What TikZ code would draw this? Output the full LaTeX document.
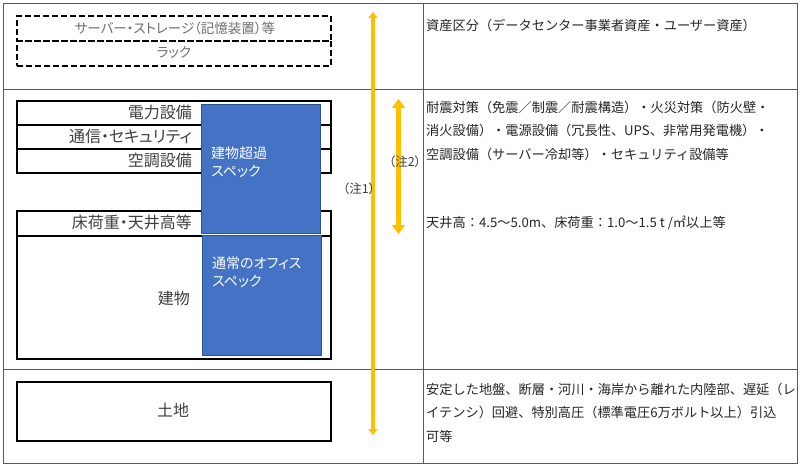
\documentclass[tikz,border=0pt]{standalone}
\usepackage{fontspec}
\newfontfamily\jp[RawFeature=+palt]{Noto Sans CJK JP}
\newfontfamily\jpr{Noto Sans CJK JP}
\usetikzlibrary{arrows.meta}
\definecolor{frame}{HTML}{595959}
\definecolor{blu}{HTML}{4472C4}
\definecolor{blub}{HTML}{2F528F}
\definecolor{gold}{HTML}{FFC000}
\definecolor{lbl}{HTML}{404040}
\definecolor{lbl2}{HTML}{6E6E6E}
\definecolor{txt}{HTML}{262626}
\tikzset{
  x=1pt, y=-1pt,
  cell/.style={draw=frame, line width=1pt, anchor=north west, inner sep=0pt},
  box/.style={draw=black, line width=1.8pt, anchor=north west, inner sep=0pt, minimum width=314pt},
  dbox/.style={draw=black, line width=1.6pt, dash pattern=on 6pt off 3pt, anchor=north west, inner sep=0pt, minimum width=314pt, minimum height=25pt},
  bluebox/.style={fill=blu, draw=blub, line width=0.6pt, anchor=north west, inner sep=0pt, minimum width=119pt},
  lab/.style={font=\jp\fontsize{16}{18}\selectfont, text=lbl, inner sep=0pt},
  dlab/.style={font=\jp\fontsize{13.5}{15}\selectfont, text=lbl2, inner sep=0pt},
  wlab/.style={font=\jp\fontsize{14}{18}\selectfont, text=white, inner sep=0pt, anchor=north west, align=left},
  note/.style={font=\jp\fontsize{12.5}{13}\selectfont, text=lbl, inner sep=0pt},
  rtxt/.style={font=\jpr\fontsize{13.2}{23.3}\selectfont, text=txt, inner sep=0pt, anchor=north west, align=left},
  arr1/.style={draw=gold, line width=3.5pt, {Triangle[length=6pt,width=9pt]}-{Triangle[length=6pt,width=9pt]}},
  arr2/.style={draw=gold, line width=5pt, {Triangle[length=9pt,width=13pt]}-{Triangle[length=9pt,width=13pt]}}
}
\begin{document}
\begin{tikzpicture}
\useasboundingbox (0,0) rectangle (800,465);
\fill[white] (0,0) rectangle (800,465);
% table cells
\node[cell, minimum width=420pt, minimum height=86pt] (c11) at (3,3) {};
\node[cell, minimum width=374pt, minimum height=86pt] (c12) at (423,3) {};
\node[cell, minimum width=420pt, minimum height=280pt] (c21) at (3,89) {};
\node[cell, minimum width=374pt, minimum height=280pt] (c22) at (423,89) {};
\node[cell, minimum width=420pt, minimum height=94pt] (c31) at (3,369) {};
\node[cell, minimum width=374pt, minimum height=94pt] (c32) at (423,369) {};
% dashed boxes
\node[dbox] (srv) at (16,15) {};
\node[dbox] (rack) at (16,40) {};
\node[dlab] (srvt) at (175,28) {サーバー・ストレージ（記憶装置）等};
\node[dlab] (rackt) at (174,52.5) {ラック};
% building boxes
\node[box, minimum height=24pt] (pw) at (16,100) {};
\node[box, minimum height=24pt] (com) at (16,124) {};
\node[box, minimum height=24pt] (ac) at (16,148) {};
\node[box, minimum height=25pt] (fl) at (16,210) {};
\node[box, minimum height=123pt] (bld) at (16,235) {};
\node[box, minimum height=59pt] (land) at (16,381) {};
\node[lab, anchor=east] (pwt) at (192,112) {電力設備};
\node[lab, anchor=east] (comt) at (192,136) {通信・セキュリティ};
\node[lab, anchor=east] (act) at (192,160) {空調設備};
\node[lab, anchor=east] (flt) at (192,222.5) {床荷重・天井高等};
\node[lab, anchor=east] (bldt) at (190,298) {建物};
\node[lab] (landt) at (173,410) {土地};
% blue boxes
\node[bluebox, minimum height=129pt] (sp1) at (201,104) {};
\node[bluebox, minimum height=120pt] (sp2) at (202,235) {};
\node[wlab] (sp1t) at (211,147) {建物超過\\スペック};
\node[wlab] (sp2t) at (212,257) {通常のオフィス\\スペック};
% arrows
\coordinate (a1t) at (373,12);
\coordinate (a1b) at (373,435);
\coordinate (a2t) at (398.5,99);
\coordinate (a2b) at (398.5,234);
\draw[arr1] (a1t) -- (a1b);
\draw[arr2] (a2t) -- (a2b);
\node[note] (n1) at (359,189) {（注1）};
\node[note] (n2) at (405,162) {（注2）};
% right texts
\node[rtxt] (r1) at (426,19) {資産区分（データセンター事業者資産・ユーザー資産）};
\node[rtxt] (r2) at (426,101) {耐震対策（免震／制震／耐震構造）・火災対策（防火壁・\\消火設備）・電源設備（冗長性、UPS、非常用発電機）・\\空調設備（サーバー冷却等）・セキュリティ設備等};
\node[rtxt] (r3) at (426,216) {天井高：4.5～5.0m、床荷重：1.0～1.5 t /㎡以上等};
\node[rtxt] (r4) at (426,383) {安定した地盤、断層・河川・海岸から離れた内陸部、遅延（レ\\イテンシ）回避、特別高圧（標準電圧6万ボルト以上）引込\\可等};
\end{tikzpicture}
\end{document}
